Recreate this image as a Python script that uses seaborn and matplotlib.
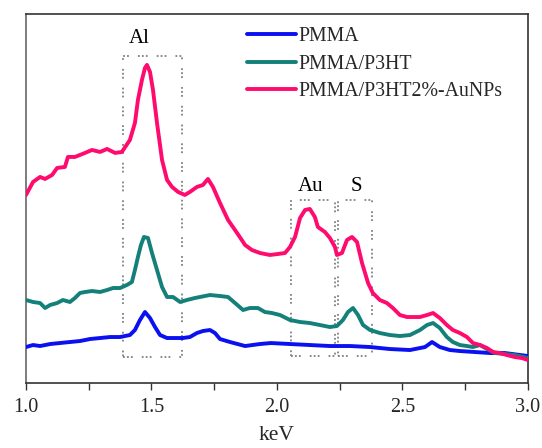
import numpy as np
import pandas as pd
import matplotlib
matplotlib.use("Agg")
import matplotlib.pyplot as plt
from matplotlib.ticker import MultipleLocator
import seaborn as sns

# ---- data ----
series_names = ["PMMA", "PMMA/P3HT", "PMMA/P3HT2%-AuNPs"]
series_colors = ["#0A10F0", "#14807A", "#FF0A6E"]

pmma_kev = [1.000, 1.028, 1.056, 1.096, 1.135, 1.175, 1.215, 1.255, 1.295, 1.335, 1.375, 1.414,
            1.434, 1.454, 1.474, 1.494, 1.514, 1.534, 1.562, 1.594, 1.625, 1.653, 1.681, 1.705,
            1.733, 1.753, 1.773, 1.813, 1.873, 1.932, 1.976, 2.052, 2.131, 2.211, 2.291, 2.371,
            2.450, 2.530, 2.590, 2.618, 2.649, 2.689, 2.729, 2.789, 2.849, 2.908, 3.000]
pmma_int = [36, 38, 37, 39, 40, 41, 42, 44, 45, 46, 46, 48,
            53, 63, 71, 65, 56, 48, 45, 45, 45, 46, 50, 52,
            53, 50, 44, 41, 37, 39, 40, 39, 38, 37, 37, 36,
            34, 33, 36, 41, 36, 33, 32, 31, 30, 30, 27]

p3ht_kev = [1.000, 1.028, 1.056, 1.076, 1.096, 1.124, 1.147, 1.175, 1.195, 1.215, 1.235, 1.263,
            1.295, 1.323, 1.347, 1.375, 1.402, 1.422, 1.434, 1.446, 1.458, 1.470, 1.486, 1.502,
            1.522, 1.542, 1.562, 1.586, 1.614, 1.641, 1.673, 1.693, 1.733, 1.773, 1.805, 1.833,
            1.865, 1.892, 1.924, 1.952, 1.980, 2.012, 2.052, 2.092, 2.131, 2.171, 2.211, 2.239,
            2.263, 2.283, 2.303, 2.323, 2.343, 2.371, 2.410, 2.450, 2.490, 2.530, 2.570, 2.598,
            2.622, 2.649, 2.677, 2.701, 2.729, 2.757, 2.781, 2.809, 2.837, 2.869, 2.908, 2.948, 3.000]
p3ht_int = [83, 81, 80, 75, 78, 80, 83, 81, 85, 90, 91, 92,
            91, 93, 95, 95, 98, 101, 113, 126, 138, 146, 145, 130,
            113, 96, 86, 86, 81, 83, 85, 86, 88, 87, 86, 80,
            73, 75, 75, 71, 70, 68, 63, 61, 60, 58, 56, 57,
            63, 71, 75, 68, 58, 53, 50, 48, 47, 48, 53, 58,
            60, 55, 46, 41, 38, 37, 36, 38, 34, 30, 29, 28, 25]

au_kev = [1.000, 1.028, 1.056, 1.076, 1.104, 1.124, 1.155, 1.167, 1.195, 1.235, 1.263, 1.295,
          1.323, 1.355, 1.382, 1.414, 1.434, 1.446, 1.462, 1.474, 1.482, 1.494, 1.506, 1.522,
          1.542, 1.562, 1.582, 1.606, 1.633, 1.653, 1.681, 1.705, 1.725, 1.745, 1.773, 1.805,
          1.841, 1.873, 1.900, 1.932, 1.972, 2.004, 2.032, 2.052, 2.072, 2.092, 2.112, 2.131,
          2.151, 2.163, 2.191, 2.211, 2.231, 2.239, 2.259, 2.279, 2.299, 2.319, 2.339, 2.363,
          2.382, 2.410, 2.438, 2.462, 2.490, 2.518, 2.542, 2.570, 2.598, 2.622, 2.649, 2.677,
          2.701, 2.729, 2.757, 2.781, 2.809, 2.837, 2.861, 2.888, 2.916, 2.948, 2.976, 3.000]
au_int = [188, 201, 206, 204, 208, 215, 216, 226, 226, 230, 233, 231,
          234, 230, 231, 243, 260, 283, 303, 315, 318, 311, 293, 260,
          223, 203, 196, 191, 188, 191, 196, 198, 204, 196, 180, 163,
          150, 138, 133, 130, 128, 129, 130, 136, 146, 165, 173, 174,
          166, 156, 151, 145, 136, 128, 130, 143, 146, 141, 120, 100,
          90, 83, 80, 75, 68, 66, 66, 66, 68, 70, 65, 58,
          53, 50, 46, 40, 38, 35, 31, 30, 28, 26, 25, 23]

# peak-region boxes (keV range, intensity range) and labels
box_labels = ["Al", "Au", "S"]
box_x0 = [1.386, 2.056, 2.243]
box_x1 = [1.622, 2.231, 2.378]
box_y0 = [26, 27, 27]
box_y1 = [327, 183, 183]
label_x = [1.450, 2.135, 2.315]
label_y = [344, 196, 196]

x_ticks = [1.0, 1.5, 2.0, 2.5, 3.0]
x_tick_labels = ["1.0", "1.5", "2.0", "2.5", "3.0"]

# ---- build long-form table ----
frames = []
for name, xs, ys in zip(series_names, [pmma_kev, p3ht_kev, au_kev], [pmma_int, p3ht_int, au_int]):
    frames.append(pd.DataFrame({"keV": xs, "counts": ys, "sample": name}))
df = pd.concat(frames, ignore_index=True)

sns.set_theme(style="white")
plt.rcParams["font.family"] = ["Liberation Serif", "DejaVu Serif"]

fig = plt.figure(figsize=(5.42, 4.48), dpi=100)
ax = fig.add_axes([0.048, 0.145, 0.926, 0.824])

# dotted boxes
for x0, x1, y0, y1 in zip(box_x0, box_x1, box_y0, box_y1):
    ax.plot([x0, x1, x1, x0, x0], [y0, y0, y1, y1, y0], color="#808080", lw=1.3,
            linestyle=(0, (1, 1.2, 1, 1.2, 1, 5)), zorder=1)
for lab, lx, ly in zip(box_labels, label_x, label_y):
    ax.text(lx, ly, lab, ha="center", va="center", fontsize=15, color="black")

sns.lineplot(data=df, x="keV", y="counts", hue="sample", hue_order=series_names,
             palette=series_colors, estimator=None, sort=False, lw=2.8, ax=ax, zorder=3)

ax.set_xlim(1.0, 3.0)
ax.set_ylim(0, 369)
ax.set_xticks(x_ticks)
ax.set_xticklabels(x_tick_labels)
ax.xaxis.set_minor_locator(MultipleLocator(0.25))
ax.set_yticks([])
ax.tick_params(axis="x", which="both", direction="out", bottom=True, length=5, width=1,
               color="#333333", labelsize=14.5, pad=6)
ax.set_xlabel("keV", fontsize=15.5, labelpad=6)
ax.set_ylabel("")
for sp in ax.spines.values():
    sp.set_visible(True)
    sp.set_color("#333333")
    sp.set_linewidth(1.2)
ax.spines["left"].set_color("#666666")

handles, labels = ax.get_legend_handles_labels()
leg = ax.legend(handles, labels, loc="upper left", bbox_to_anchor=(0.425, 0.985),
                frameon=False, fontsize=14.3, handlelength=2.45, handletextpad=0.15,
                labelspacing=0.42, borderaxespad=0)
for line in leg.get_lines():
    line.set_linewidth(2.8)

fig.savefig("out.png", dpi=100)
